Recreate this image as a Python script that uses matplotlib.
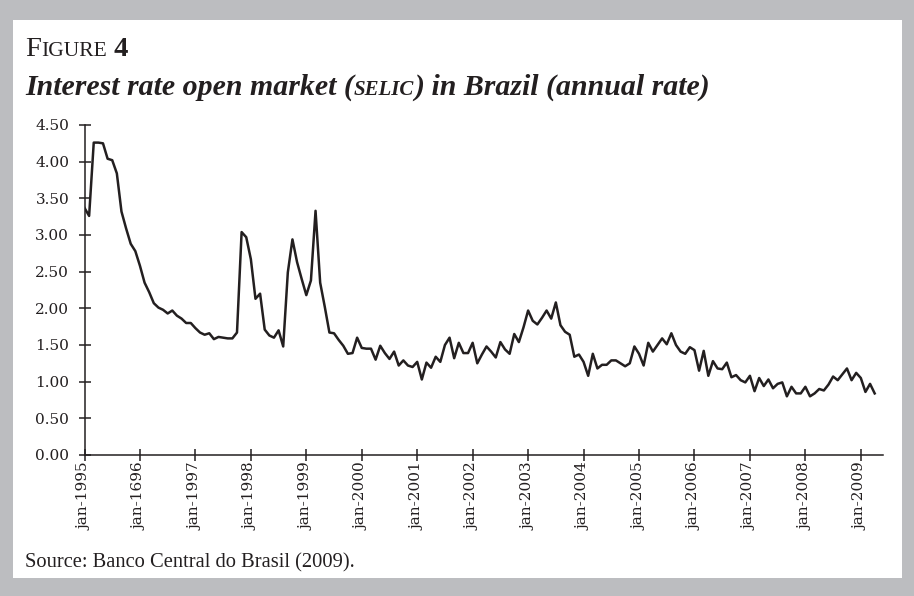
import numpy as np
import matplotlib.pyplot as plt
from matplotlib.patches import Rectangle

# monthly SELIC rate, jan-1995 .. apr-2009
y1995 = [3.37, 3.26, 4.26, 4.26, 4.25, 4.04, 4.02, 3.84, 3.32, 3.09, 2.88, 2.78]
y1996 = [2.58, 2.35, 2.22, 2.07, 2.01, 1.98, 1.93, 1.97, 1.90, 1.86, 1.80, 1.80]
y1997 = [1.73, 1.67, 1.64, 1.66, 1.58, 1.61, 1.60, 1.59, 1.59, 1.67, 3.04, 2.97]
y1998 = [2.67, 2.13, 2.20, 1.71, 1.63, 1.60, 1.70, 1.48, 2.49, 2.94, 2.63, 2.40]
y1999 = [2.18, 2.38, 3.33, 2.35, 2.02, 1.67, 1.66, 1.57, 1.49, 1.38, 1.39, 1.60]
y2000 = [1.46, 1.45, 1.45, 1.30, 1.49, 1.39, 1.31, 1.41, 1.22, 1.29, 1.22, 1.20]
y2001 = [1.27, 1.03, 1.26, 1.19, 1.34, 1.27, 1.50, 1.60, 1.32, 1.53, 1.39, 1.39]
y2002 = [1.53, 1.25, 1.37, 1.48, 1.41, 1.33, 1.54, 1.44, 1.38, 1.65, 1.54, 1.74]
y2003 = [1.97, 1.83, 1.78, 1.87, 1.97, 1.86, 2.08, 1.77, 1.68, 1.64, 1.34, 1.37]
y2004 = [1.27, 1.08, 1.38, 1.18, 1.23, 1.23, 1.29, 1.29, 1.25, 1.21, 1.25, 1.48]
y2005 = [1.38, 1.22, 1.53, 1.41, 1.50, 1.59, 1.51, 1.66, 1.50, 1.41, 1.38, 1.47]
y2006 = [1.43, 1.15, 1.42, 1.08, 1.28, 1.18, 1.17, 1.26, 1.06, 1.09, 1.02, 0.99]
y2007 = [1.08, 0.87, 1.05, 0.94, 1.03, 0.91, 0.97, 0.99, 0.80, 0.93, 0.84, 0.84]
y2008 = [0.93, 0.80, 0.84, 0.90, 0.88, 0.96, 1.07, 1.02, 1.10, 1.18, 1.02, 1.12]
y2009 = [1.05, 0.86, 0.97, 0.84]

selic = (y1995 + y1996 + y1997 + y1998 + y1999 + y2000 + y2001 + y2002
         + y2003 + y2004 + y2005 + y2006 + y2007 + y2008 + y2009)

xlabels = ['jan-1995', 'jan-1696', 'jan-1997', 'jan-1998', 'jan-1999',
           'jan-2000', 'jan-2001', 'jan-2002', 'jan-2003', 'jan-2004',
           'jan-2005', 'jan-2006', 'jan-2007', 'jan-2008', 'jan-2009']
yticks = [0.0, 0.5, 1.0, 1.5, 2.0, 2.5, 3.0, 3.5, 4.0, 4.5]

ink = '#231f20'
W, H = 914, 596

fig = plt.figure(figsize=(W / 100, H / 100), dpi=100)
fig.patch.set_facecolor('#bcbdc0')
fig.add_artist(Rectangle((13 / W, 1 - 578 / H), (902 - 13) / W, (578 - 20) / H,
                         transform=fig.transFigure, facecolor='white',
                         edgecolor='none', zorder=0))

ax = fig.add_axes([84.5 / W, 1 - 455 / H, (883 - 84.5) / W, (455 - 125) / H])
ax.set_facecolor('none')
ax.plot(np.arange(len(selic)), selic, color=ink, lw=1.8)
ax.set_xlim(0, 172.8)
ax.set_ylim(0, 4.5)
ax.set_yticks(yticks)
ax.set_yticklabels([f'{v:.2f}' for v in yticks], family='DejaVu Serif', fontsize=11)
ax.set_xticks(np.arange(0, 12 * len(xlabels), 12))
ax.set_xticklabels(xlabels, rotation=90, family='DejaVu Serif', fontsize=11)
for s in ['top', 'right']:
    ax.spines[s].set_visible(False)
for s in ['left', 'bottom']:
    ax.spines[s].set_color(ink)
    ax.spines[s].set_linewidth(1.1)
ax.tick_params(axis='y', direction='inout', length=8, width=1.1, colors=ink, pad=7)
ax.tick_params(axis='x', direction='inout', length=8, width=1.1, colors=ink, pad=1.5)

r = fig.canvas.get_renderer()


def chain(parts, x, y, family):
    # place text pieces one after another on a common baseline (pixels)
    for s, kw in parts:
        t = fig.text(x / W, 1 - y / H, s, va='baseline', ha='left', color=ink,
                     family=family, **kw)
        x = t.get_window_extent(r).x1


chain([('F', dict(fontsize=20.5)), ('IGURE', dict(fontsize=15.5)),
       (' 4', dict(fontsize=20.5, weight='bold'))], 25, 56, 'Liberation Serif')
bi = dict(weight='bold', style='italic')
chain([('Interest rate open market (', dict(fontsize=21.5, **bi)),
       ('SELIC', dict(fontsize=15, **bi)),
       (') in Brazil (annual rate)', dict(fontsize=21.5, **bi))],
      25, 95, 'Liberation Serif')
chain([('Source: Banco Central do Brasil (2009).', dict(fontsize=14.8))], 25, 567,
      'Liberation Serif')

fig.savefig('out.png', dpi=100, facecolor=fig.get_facecolor())
